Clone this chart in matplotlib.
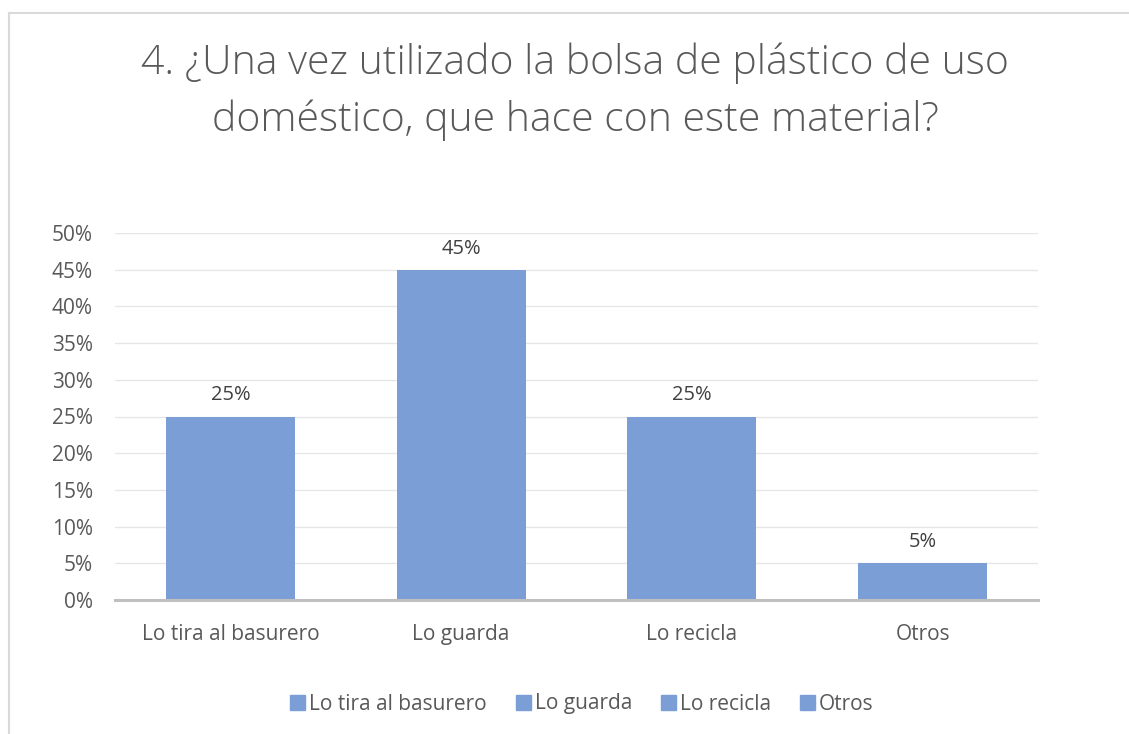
import numpy as np
import matplotlib.pyplot as plt
from matplotlib.patches import Rectangle

categories = ['Lo tira al basurero', 'Lo guarda', 'Lo recicla', 'Otros']
values = [0.25, 0.45, 0.25, 0.05]
yticks = [0, 0.05, 0.10, 0.15, 0.20, 0.25, 0.30, 0.35, 0.40, 0.45, 0.50]
title = '4. ¿Una vez utilizado la bolsa de plástico de uso\ndoméstico, que hace con este material?'

bar_color = '#7B9ED6'
text_color = '#595959'

plt.rcParams['font.family'] = ['Open Sans', 'DejaVu Sans']

fig = plt.figure(figsize=(11.29, 7.34), dpi=100)
W, H = 1129, 734
ax = fig.add_axes([115 / W, 1 - 600 / H, 923 / W, 367 / H])

x = np.arange(len(categories))
bars = ax.bar(x, values, width=0.56, color=bar_color, zorder=3)
for xi, v in zip(x, values):
    ax.annotate('%d%%' % round(v * 100), (xi, v), xytext=(0, 8), textcoords='offset points',
                ha='center', va='bottom', fontsize=14.5, color='#404040')

ax.set_xlim(-0.5, len(categories) - 0.5)
ax.set_ylim(0, 0.5)
ax.set_yticks(yticks)
ax.set_yticklabels(['%d%%' % round(t * 100) for t in yticks], fontsize=15, color=text_color)
ax.set_xticks(x)
ax.set_xticklabels(categories, fontsize=15, color=text_color)
ax.tick_params(axis='both', length=0)
ax.tick_params(axis='x', pad=17)
ax.tick_params(axis='y', pad=16)
ax.grid(axis='y', color='#E6E6E6', linewidth=1, zorder=0)
for s in ['top', 'right', 'left']:
    ax.spines[s].set_visible(False)
ax.spines['bottom'].set_color('#BFBFBF')
ax.spines['bottom'].set_linewidth(2.2)
ax.spines['bottom'].set_zorder(4)

fig.text(575 / W, 1 - 92 / H, title, ha='center', va='center', fontsize=29.5,
         color=text_color, fontweight='light', linespacing=1.5)

handles = [Rectangle((0, 0), 1, 1, color=bar_color) for _ in categories]
fig.legend(handles, categories, loc='center', bbox_to_anchor=(582 / W, 1 - 704 / H),
           ncol=4, frameon=False, fontsize=15, handlelength=0.7, handleheight=0.7,
           handletextpad=0.2, columnspacing=1.4, labelcolor=text_color)

# chart border
fig.add_artist(plt.Line2D([9 / W, 9 / W], [1 - 13 / H, 0], transform=fig.transFigure,
                          color='#D9D9D9', linewidth=1.5))
fig.add_artist(plt.Line2D([9 / W, 1], [1 - 13 / H, 1 - 13 / H], transform=fig.transFigure,
                          color='#D9D9D9', linewidth=1.5))

fig.savefig('out.png', dpi=100)
